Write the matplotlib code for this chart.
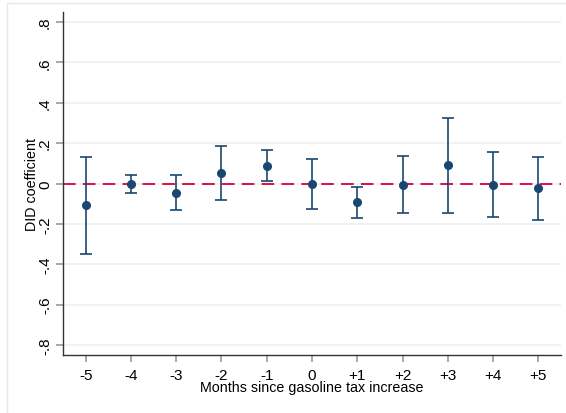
import matplotlib
matplotlib.use("Agg")
import matplotlib.pyplot as plt
from matplotlib.patches import Rectangle

months = [-5, -4, -3, -2, -1, 0, 1, 2, 3, 4, 5]
xlabels = ["-5", "-4", "-3", "-2", "-1", "0", "+1", "+2", "+3", "+4", "+5"]
coef = [-0.107, 0.0, -0.045, 0.052, 0.088, -0.003, -0.092, -0.005, 0.092, -0.005, -0.023]
upper = [0.130, 0.040, 0.040, 0.185, 0.167, 0.120, -0.017, 0.136, 0.325, 0.157, 0.132]
lower = [-0.347, -0.045, -0.130, -0.080, 0.013, -0.125, -0.170, -0.146, -0.146, -0.166, -0.182]
yticks = [-0.8, -0.6, -0.4, -0.2, 0, 0.2, 0.4, 0.6, 0.8]
yticklabels = ["-.8", "-.6", "-.4", "-.2", "0", ".2", ".4", ".6", ".8"]

plt.rcParams['font.family'] = ['Liberation Sans', 'DejaVu Sans']
navy = "#1a476f"

fig = plt.figure(figsize=(5.66, 4.14), dpi=100)
fig.patches.append(Rectangle((7/566, -0.1), 1.2, (414-3.5)/414 + 0.1, transform=fig.transFigure,
                             fill=False, edgecolor="#e6e6e6", linewidth=1.0))
ax = fig.add_axes([63/566, 1 - 356/414, (561-63)/566, (356-13)/414])

for y in yticks:
    ax.axhline(y, color="#eaf2f3", linewidth=1.2, zorder=0)
ax.axhline(0, color="#d6003c", linewidth=1.3, dashes=(7, 4), zorder=1)

yerr = [[c - l for c, l in zip(coef, lower)], [u - c for c, u in zip(coef, upper)]]
ax.errorbar(months, coef, yerr=yerr, fmt="o", color=navy, ecolor=navy, elinewidth=1.2,
            capsize=4, capthick=1.2, markersize=5.5, zorder=3)

ax.set_xlim(-5.5, 5.5)
ax.set_ylim(-0.85, 0.85)
ax.set_xticks(months)
ax.set_xticklabels(xlabels, fontsize=11)
ax.set_yticks(yticks)
ax.set_yticklabels(yticklabels, fontsize=11, rotation=90, va="center")
ax.spines['top'].set_visible(False)
ax.spines['right'].set_visible(False)
for s in ['left', 'bottom']:
    ax.spines[s].set_color("#333333")
    ax.spines[s].set_linewidth(1.0)
ax.tick_params(axis='both', direction='out', length=5, color="#999999", width=1.2, pad=4)
ax.tick_params(axis='y', pad=3)
ax.set_xlabel("Months since gasoline tax increase", fontsize=10.3, labelpad=-1)
ax.set_ylabel("DID coefficient", fontsize=10.3, labelpad=-1)

fig.savefig("out.png", dpi=100)
